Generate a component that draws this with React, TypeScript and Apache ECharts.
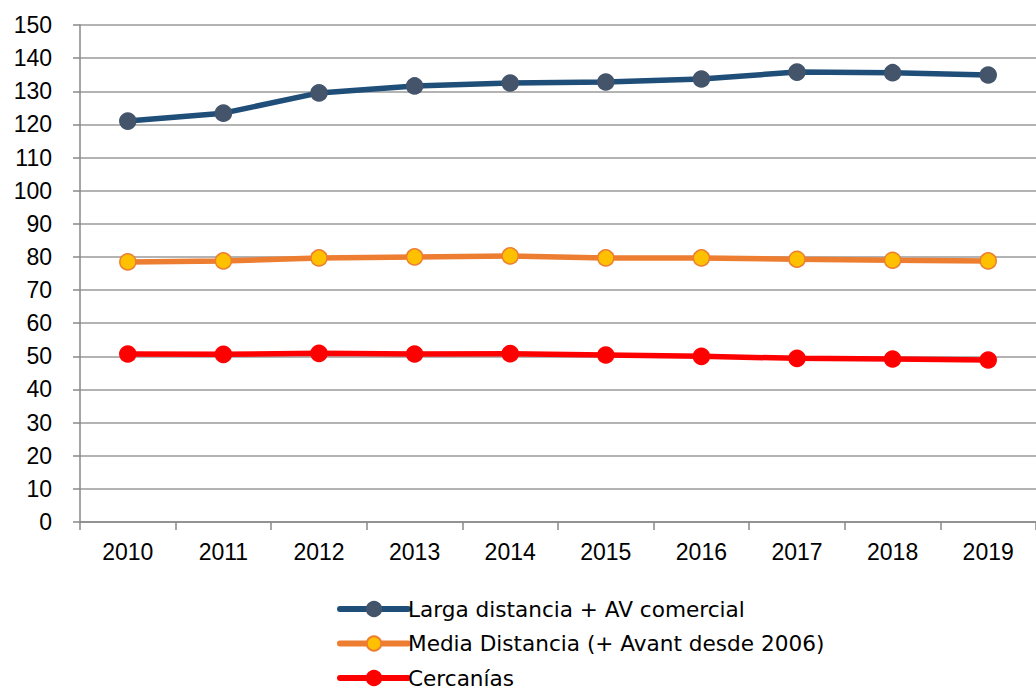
import React, { useEffect, useRef } from "react";
import * as echarts from "echarts";

const years = ["2010", "2011", "2012", "2013", "2014", "2015", "2016", "2017", "2018", "2019"];
const larga = [121.0, 123.4, 129.5, 131.6, 132.5, 132.8, 133.7, 135.8, 135.6, 134.9];
const media = [78.5, 78.8, 79.7, 80.0, 80.3, 79.7, 79.7, 79.3, 79.0, 78.8];
const cercanias = [50.7, 50.6, 50.9, 50.7, 50.8, 50.4, 50.0, 49.4, 49.2, 48.9];
const seriesNames = [
  "Larga distancia + AV comercial",
  "Media Distancia (+ Avant desde 2006)",
  "Cercanías",
];

const FONT = "DejaVu Sans";
const NUMFONT = "Liberation Sans";

export default function App() {
  const ref = useRef<HTMLDivElement>(null);
  useEffect(() => {
    const chart = echarts.init(ref.current!, null, { renderer: "svg" });
    const mk = (name: string, data: number[], line: string, fill: string, border: string) => ({
      name,
      type: "line",
      data,
      symbol: "circle",
      symbolSize: 16,
      lineStyle: { color: line, width: 5.5, cap: "round" },
      itemStyle: { color: fill, borderColor: border, borderWidth: 1.5 },
      emphasis: { disabled: true },
    });
    chart.setOption({
      animation: false,
      backgroundColor: "#fff",
      textStyle: { fontFamily: FONT },
      grid: { left: 80, right: -6, top: 25, bottom: 170, containLabel: false },
      xAxis: {
        type: "category",
        data: years,
        boundaryGap: true,
        axisLine: { lineStyle: { color: "#898989", width: 1.5 } },
        axisTick: { show: true, length: 8, alignWithLabel: false, lineStyle: { color: "#898989", width: 1.5 } },
        axisLabel: { color: "#000", fontSize: 23, fontFamily: NUMFONT, margin: 18 },
        splitLine: { show: false },
      },
      yAxis: {
        type: "value",
        min: 0,
        max: 150,
        interval: 10,
        axisLine: { show: true, lineStyle: { color: "#898989", width: 1.5 } },
        axisTick: { show: true, length: 7, lineStyle: { color: "#898989", width: 1.5 } },
        axisLabel: { color: "#000", fontSize: 23, fontFamily: NUMFONT, margin: 28 },
        splitLine: { lineStyle: { color: "#9a9a9a", width: 1.5 } },
      },
      legend: {
        orient: "vertical",
        left: 337,
        top: 598,
        height: 94,
        padding: 0,
        itemWidth: 68,
        itemHeight: 18,
        itemGap: 12.5,
        lineStyle: { width: 6, cap: "round" },
        textStyle: { color: "#000", fontSize: 21.6, fontFamily: FONT, padding: [0, 0, 0, -5] },
        data: seriesNames,
      },
      series: [
        mk(seriesNames[0], larga, "#1F4E79", "#44546A", "#44546A"),
        mk(seriesNames[1], media, "#ED7D31", "#FFC000", "#ED7D31"),
        mk(seriesNames[2], cercanias, "#FF0000", "#FF0000", "#FF0000"),
      ],
    });
    return () => chart.dispose();
  }, []);
  return (
    <div
      ref={ref}
      style={{ position: "fixed", left: 0, top: 0, width: 1036, height: 692 }}
    />
  );
}
